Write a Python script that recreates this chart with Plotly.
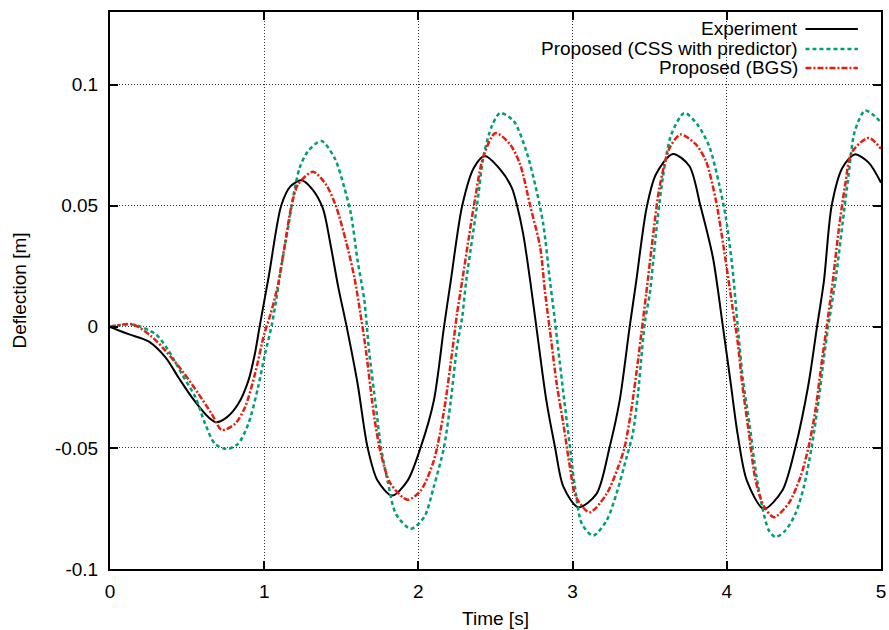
import plotly.graph_objects as go

# ---------------- data ----------------
t_exp = [0, 0.12, 0.25, 0.36, 0.445, 0.53, 0.64, 0.69, 0.757, 0.83, 0.897, 0.94, 0.97,
         1.03, 1.11, 1.17, 1.24, 1.31, 1.38, 1.43, 1.48, 1.535, 1.606, 1.67, 1.735, 1.83,
         1.93, 2.015, 2.10, 2.166, 2.21, 2.284, 2.36, 2.43, 2.53, 2.606, 2.64, 2.68, 2.725,
         2.765, 2.83, 2.886, 2.94, 3.037, 3.155, 3.24, 3.305, 3.37, 3.41, 3.48, 3.54, 3.65,
         3.757, 3.83, 3.91, 3.975, 4.026, 4.07, 4.13, 4.24, 4.36, 4.445, 4.53, 4.585, 4.63,
         4.68, 4.75, 4.83, 4.92, 5.0]
v_exp = [0, -0.003, -0.006, -0.0126, -0.021, -0.029, -0.0374, -0.0394, -0.0374, -0.032,
         -0.0223, -0.011, 0, 0.021, 0.05, 0.058, 0.0605, 0.057, 0.049, 0.034, 0.0165, 0,
         -0.0236, -0.0497, -0.0635, -0.0697, -0.0635, -0.0497, -0.0305, 0, 0.019, 0.05,
         0.0657, 0.0705, 0.065, 0.0574, 0.05, 0.0382, 0.019, 0, -0.0305, -0.0497, -0.066,
         -0.0745, -0.069, -0.0497, -0.0305, 0, 0.0176, 0.0492, 0.0629, 0.0714, 0.0664,
         0.0497, 0.0286, 0, -0.0236, -0.0442, -0.0635, -0.0752, -0.0676, -0.0497, -0.0236,
         0, 0.019, 0.05, 0.0657, 0.0712, 0.0678, 0.0595]

t_css = [0, 0.144, 0.295, 0.38, 0.466, 0.553, 0.617, 0.68, 0.757, 0.83, 0.897, 0.96, 1.005,
         1.05, 1.08, 1.11, 1.155, 1.187, 1.23, 1.284, 1.37, 1.456, 1.52, 1.563, 1.606, 1.65,
         1.68, 1.725, 1.757, 1.80, 1.854, 1.95, 2.037, 2.10, 2.166, 2.21, 2.25, 2.284, 2.31,
         2.35, 2.38, 2.424, 2.477, 2.53, 2.617, 2.70, 2.767, 2.81, 2.853, 2.875, 2.908, 2.945,
         2.983, 3.015, 3.06, 3.133, 3.22, 3.284, 3.35, 3.39, 3.424, 3.45, 3.47, 3.50, 3.54,
         3.585, 3.64, 3.725, 3.81, 3.886, 3.95, 3.994, 4.037, 4.07, 4.105, 4.15, 4.19, 4.23,
         4.273, 4.316, 4.38, 4.445, 4.50, 4.55, 4.595, 4.63, 4.66, 4.71, 4.75, 4.79, 4.83,
         4.897, 4.96, 5.0]
v_css = [0, 0.001, -0.003, -0.0099, -0.0195, -0.029, -0.040, -0.0483, -0.0505, -0.0483,
         -0.0401, -0.025, -0.0113, 0.001, 0.012, 0.0245, 0.041, 0.0533, 0.0657, 0.0725,
         0.0767, 0.0698, 0.0574, 0.0464, 0.0272, 0.0107, -0.0099, -0.0333, -0.0497, -0.0635,
         -0.0772, -0.0834, -0.0786, -0.066, -0.0497, -0.0305, -0.0085, 0.004, 0.019, 0.0368,
         0.05, 0.071, 0.083, 0.0883, 0.085, 0.0725, 0.056, 0.0423, 0.019, 0.008, -0.0099,
         -0.030, -0.0497, -0.066, -0.0813, -0.0862, -0.080, -0.069, -0.0539, -0.0442,
         -0.0277, -0.0099, 0.0025, 0.0135, 0.038, 0.0615, 0.0794, 0.0883, 0.0835, 0.0745,
         0.059, 0.045, 0.024, 0.001, -0.022, -0.0415, -0.0607, -0.0745, -0.0841, -0.0868,
         -0.0841, -0.0772, -0.066, -0.0497, -0.0305, -0.0126, 0.001, 0.0217, 0.0423, 0.0629,
         0.0808, 0.0893, 0.087, 0.0842]

t_bgs = [0, 0.144, 0.27, 0.36, 0.466, 0.574, 0.66, 0.725, 0.81, 0.875, 0.94, 1.00, 1.04,
         1.09, 1.134, 1.176, 1.22, 1.316, 1.40, 1.466, 1.53, 1.585, 1.63, 1.66, 1.714, 1.757,
         1.82, 1.93, 2.015, 2.10, 2.166, 2.22, 2.25, 2.284, 2.327, 2.36, 2.42, 2.50, 2.595,
         2.66, 2.725, 2.79, 2.82, 2.86, 2.897, 2.94, 2.983, 3.02, 3.11, 3.22, 3.295, 3.337,
         3.38, 3.424, 3.445, 3.477, 3.52, 3.563, 3.63, 3.70, 3.80, 3.865, 3.93, 3.983, 4.037,
         4.07, 4.10, 4.144, 4.187, 4.24, 4.305, 4.40, 4.477, 4.53, 4.574, 4.617, 4.65, 4.69,
         4.725, 4.768, 4.81, 4.92, 5.0]
v_bgs = [0, 0.001, -0.004, -0.0099, -0.018, -0.0277, -0.036, -0.0426, -0.0401, -0.0333,
         -0.0195, -0.003, 0.005, 0.0176, 0.034, 0.0497, 0.0588, 0.064, 0.0588, 0.0497,
         0.0354, 0.0203, 0.003, -0.0099, -0.0374, -0.0525, -0.0648, -0.0714, -0.0676,
         -0.0552, -0.0346, -0.0099, 0.0052, 0.019, 0.0368, 0.05, 0.070, 0.080, 0.0753,
         0.067, 0.05, 0.0327, 0.015, -0.005, -0.0236, -0.0401, -0.058, -0.070, -0.0766,
         -0.069, -0.058, -0.0497, -0.0346, -0.014, -0.003, 0.0135, 0.0368, 0.0574, 0.074,
         0.0794, 0.0753, 0.0684, 0.052, 0.0313, 0.008, -0.006, -0.0236, -0.0442, -0.0635,
         -0.074, -0.0786, -0.073, -0.0621, -0.0497, -0.0346, -0.014, 0.001, 0.0203, 0.0396,
         0.0588, 0.072, 0.078, 0.0735]

series_names = ["Experiment", "Proposed (CSS with predictor)", "Proposed (BGS)"]
x_ticks = [0, 1, 2, 3, 4, 5]
x_tick_labels = ["0", "1", "2", "3", "4", "5"]
y_ticks = [-0.1, -0.05, 0, 0.05, 0.1]
y_tick_labels = ["-0.1", "-0.05", "0", "0.05", "0.1"]

# ---------------- styling ----------------
FONT = "Liberation Sans, Arial, Helvetica, sans-serif"
FS = 19
colors = ["#000000", "#009e73", "#e51e10"]
dashes = ["solid", "4px,3px", "6px,2px,2px,2px"]
widths = [2, 2.5, 2.5]

fig = go.Figure()
for name, tx, vy, c, d, w in zip(series_names, [t_exp, t_css, t_bgs],
                                 [v_exp, v_css, v_bgs], colors, dashes, widths):
    fig.add_trace(go.Scatter(x=tx, y=vy, mode="lines", name=name,
                             line=dict(color=c, dash=d, width=w, shape="spline", smoothing=0.8)))

# gnuplot-style key: text right-aligned, sample line to the right
key_rows = [0.9695, 0.9336, 0.8995]
for name, c, d, w, yr in zip(series_names, colors, dashes, widths, key_rows):
    fig.add_annotation(x=0.885, y=yr, xref="paper", yref="paper", text=name,
                       showarrow=False, xanchor="right", yanchor="middle", xshift=8,
                       font=dict(family=FONT, size=FS, color="black"))
    fig.add_shape(type="line", xref="paper", yref="paper", x0=0.902, x1=0.970,
                  y0=yr, y1=yr, line=dict(color=c, dash=d, width=w))

axis_common = dict(
    showline=True, linecolor="black", linewidth=2, mirror="allticks",
    ticks="inside", ticklen=8, tickwidth=1.5, tickcolor="black",
    showgrid=True, gridcolor="#333333", griddash="1px,2px", gridwidth=1,
    zeroline=False, tickfont=dict(family=FONT, size=FS, color="black"),
)

fig.update_layout(
    width=889, height=630,
    margin=dict(l=110, r=3, t=12, b=61),
    paper_bgcolor="white", plot_bgcolor="white",
    showlegend=False,
    font=dict(family=FONT, size=FS, color="black"),
    xaxis=dict(range=[0, 5], tickvals=x_ticks, ticktext=x_tick_labels,
               ticklabelstandoff=4, ticklabeloverflow="allow",
               title=dict(text="Time [s]", font=dict(family=FONT, size=FS), standoff=11),
               **axis_common),
    yaxis=dict(range=[-0.1, 0.13], tickvals=y_ticks, ticktext=y_tick_labels,
               ticklabelstandoff=6,
               title=dict(text="Deflection [m]", font=dict(family=FONT, size=FS), standoff=23),
               **axis_common),
)

fig.write_html("out.html")
